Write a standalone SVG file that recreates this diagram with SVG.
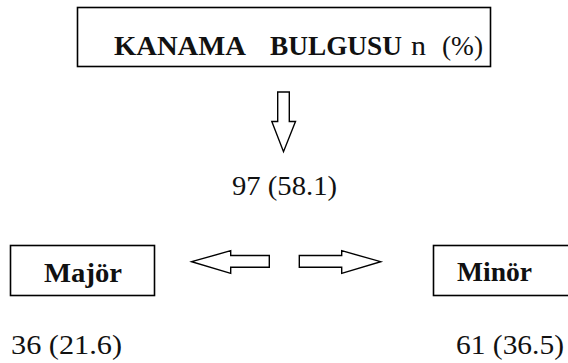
<svg xmlns="http://www.w3.org/2000/svg" width="568" height="363" viewBox="0 0 568 363">
<style>
.box{fill:#fff;stroke:#000;stroke-width:1.6}
.arr{fill:#fff;stroke:#000;stroke-width:1.4;stroke-linejoin:miter}
.b{font-family:"Liberation Serif","Times New Roman",serif;font-weight:bold;fill:#111;font-size:28px}
.r{font-family:"Liberation Serif","Times New Roman",serif;fill:#111;font-size:28px}
</style>
<rect width="568" height="363" fill="#fff"/>
<g id="kanama">
<rect class="box" x="77.5" y="7.5" width="413" height="59"/>
<text class="b" x="114" y="55" textLength="132" lengthAdjust="spacingAndGlyphs">KANAMA</text>
<text class="b" x="270" y="55" textLength="132" lengthAdjust="spacingAndGlyphs">BULGUSU</text>
<text class="r" x="411" y="55" textLength="15" lengthAdjust="spacingAndGlyphs">n</text>
<text class="r" x="442" y="55" textLength="41" lengthAdjust="spacingAndGlyphs">(%)</text>
</g>
<g id="total">
<text class="r" x="232" y="195" textLength="105" lengthAdjust="spacingAndGlyphs">97 (58.1)</text>
</g>
<g id="major">
<rect class="box" x="10.5" y="245.5" width="144" height="50"/>
<text class="b" x="44" y="282" textLength="78" lengthAdjust="spacingAndGlyphs">Majör</text>
<text class="r" x="11" y="354" textLength="111" lengthAdjust="spacingAndGlyphs">36 (21.6)</text>
</g>
<g id="minor">
<rect class="box" x="433.5" y="245.5" width="145" height="50"/>
<text class="b" x="457" y="281" textLength="75" lengthAdjust="spacingAndGlyphs">Minör</text>
<text class="r" x="456" y="354" textLength="108" lengthAdjust="spacingAndGlyphs">61 (36.5)</text>
</g>
<g id="connectors">
<polygon class="arr" points="277.7,92 289.3,92 289.3,121.5 295.5,121.5 283.5,151.7 271.8,121.5 277.7,121.5"/>
<polygon class="arr" points="191.7,261.7 230.7,250.7 230.7,255.5 269.3,255.5 269.3,267.3 230.7,267.3 230.7,273.3"/>
<polygon class="arr" points="299.3,255.5 341.7,255.5 341.7,250.7 380.7,261.7 341.7,273.3 341.7,267.3 299.3,267.3"/>
</g>
</svg>
